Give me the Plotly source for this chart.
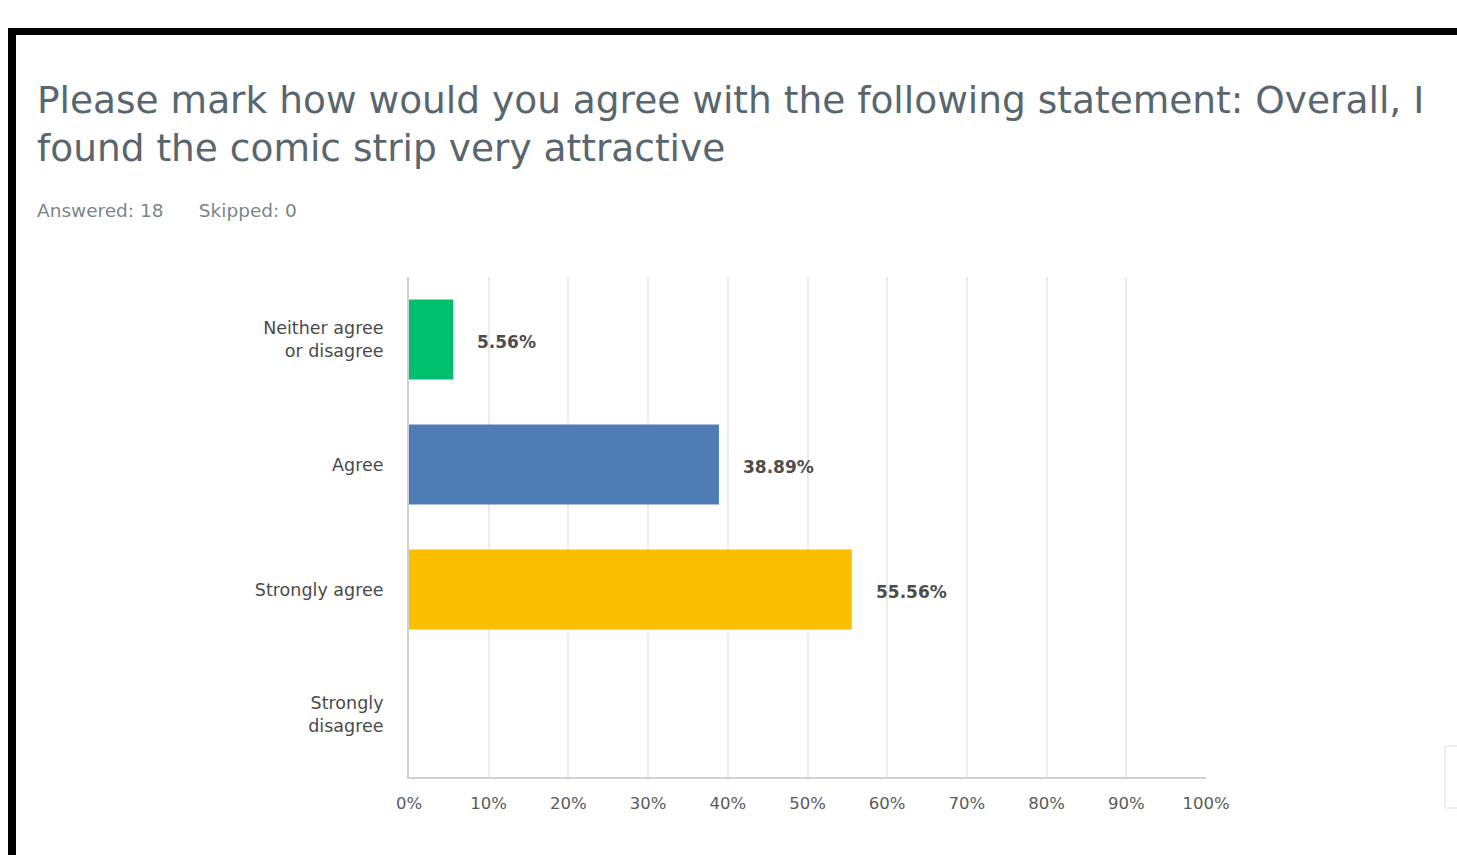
import plotly.graph_objects as go

categories = ["Neither agree<br>or disagree", "Agree", "Strongly agree", "Strongly<br>disagree"]
values = [5.56, 38.89, 55.56, 0.0]
colors = ["#00bf6f", "#507cb6", "#f9be00", "#cccccc"]
tick_vals = [0, 10, 20, 30, 40, 50, 60, 70, 80, 90, 100]
tick_text = ["0%", "10%", "20%", "30%", "40%", "50%", "60%", "70%", "80%", "90%", "100%"]
title_lines = ["Please mark how would you agree with the following statement: Overall, I",
               "found the comic strip very attractive"]
subtitle = "Answered: 18&nbsp;&nbsp;&nbsp;&nbsp;&nbsp;&nbsp;Skipped: 0"

W, H = 1457, 855
L, R, T, B = 409, 1206, 277, 777

def px(x):
    return (x - L) / (R - L)

def py(y):
    return (B - y) / (B - T)

fig = go.Figure()
fig.add_trace(go.Bar(
    y=categories, x=values, orientation="h",
    marker=dict(color=colors, line=dict(width=0)),
    width=0.64, hoverinfo="skip",
))

FONT = "DejaVu Sans"
annotations = []
for c, v in zip(categories, values):
    if v > 0:
        annotations.append(dict(
            x=v, y=c, xref="x", yref="y", text=f"{v:.2f}%", showarrow=False,
            xanchor="left", yshift=-2, xshift=22,
            font=dict(family=FONT, size=17, color="#4d4d4d", weight=600),
        ))
annotations.append(dict(x=px(35), y=py(100), xref="paper", yref="paper", text=title_lines[0],
                        showarrow=False, xanchor="left", yanchor="middle",
                        font=dict(family=FONT, size=37.5, color="#5a666d")))
annotations.append(dict(x=px(35), y=py(148), xref="paper", yref="paper", text=title_lines[1],
                        showarrow=False, xanchor="left", yanchor="middle",
                        font=dict(family=FONT, size=37.5, color="#5a666d")))
annotations.append(dict(x=px(35), y=py(210), xref="paper", yref="paper", text=subtitle,
                        showarrow=False, xanchor="left", yanchor="middle",
                        font=dict(family=FONT, size=18.5, color="#7a858c")))

shapes = [
    dict(type="rect", xref="paper", yref="paper", x0=px(8), x1=px(1460), y0=py(28), y1=py(35),
         fillcolor="black", line=dict(width=0), layer="above"),
    dict(type="rect", xref="paper", yref="paper", x0=px(8), x1=px(16), y0=py(28), y1=py(860),
         fillcolor="black", line=dict(width=0), layer="above"),
    dict(type="rect", xref="paper", yref="paper", x0=px(1445), x1=px(1462), y0=py(746), y1=py(808),
         fillcolor="white", line=dict(width=1, color="#dddddd"), layer="above"),
]

fig.update_layout(
    width=W, height=H,
    margin=dict(l=L, r=W - R, t=T, b=H - B, pad=0),
    paper_bgcolor="white", plot_bgcolor="white",
    showlegend=False, bargap=0.36,
    annotations=annotations, shapes=shapes,
    xaxis=dict(range=[0, 100], tickvals=tick_vals, ticktext=tick_text,
               showgrid=True, gridcolor="#ebebeb", gridwidth=1.5, zeroline=False,
               showline=True, linecolor="#d0d0d0", linewidth=2, mirror=False,
               ticks="", ticklabelstandoff=10,
               tickfont=dict(family=FONT, size=16.5, color="#5a5a5a"), fixedrange=True),
    yaxis=dict(categoryorder="array", categoryarray=categories, autorange="reversed",
               showgrid=False, zeroline=False, showline=True, linecolor="#d0d0d0", linewidth=2,
               ticks="", ticklabelstandoff=20,
               tickfont=dict(family=FONT, size=17.5, color="#4a4a4a"), fixedrange=True),
)

fig.write_html("out.html", config={"displayModeBar": False})
